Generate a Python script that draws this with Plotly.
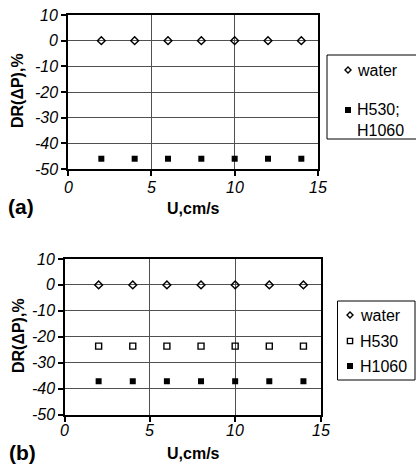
import plotly.graph_objects as go

# Flow velocity, cm/s
u = [2, 4, 6, 8, 10, 12, 14]

# Panel (a): drag reduction, %
dr_a_water = [0, 0, 0, 0, 0, 0, 0]
dr_a_h530_h1060 = [-46, -46, -46, -46, -46, -46, -46]

# Panel (b): drag reduction, %
dr_b_water = [0, 0, 0, 0, 0, 0, 0]
dr_b_h530 = [-23.6, -23.6, -23.6, -23.6, -23.6, -23.6, -23.6]
dr_b_h1060 = [-37.2, -37.2, -37.2, -37.2, -37.2, -37.2, -37.2]

x_ticks = [0, 5, 10, 15]
y_ticks = [10, 0, -10, -20, -30, -40, -50]

W, H = 416, 464
FONT = "Liberation Sans, Arial, sans-serif"

fig = go.Figure()

diamond = dict(symbol="diamond-open", size=6, color="black", line=dict(width=1.4, color="black"))
fsquare = dict(symbol="square", size=6, color="black")
osquare = dict(symbol="square-open", size=6, color="black", line=dict(width=1.4, color="black"))

fig.add_trace(go.Scatter(x=u, y=dr_a_water, mode="markers", name="water",
                         marker=diamond, xaxis="x", yaxis="y"))
fig.add_trace(go.Scatter(x=u, y=dr_a_h530_h1060, mode="markers", name="H530; H1060",
                         marker=fsquare, xaxis="x", yaxis="y"))
fig.add_trace(go.Scatter(x=u, y=dr_b_water, mode="markers", name="water",
                         marker=diamond, xaxis="x2", yaxis="y2"))
fig.add_trace(go.Scatter(x=u, y=dr_b_h530, mode="markers", name="H530",
                         marker=osquare, xaxis="x2", yaxis="y2"))
fig.add_trace(go.Scatter(x=u, y=dr_b_h1060, mode="markers", name="H1060",
                         marker=fsquare, xaxis="x2", yaxis="y2"))


def px_x(p):
    return p / W


def px_y(p):
    return 1 - p / H


axis_common = dict(
    showline=True, linecolor="black", linewidth=2, mirror=True,
    ticks="outside", ticklen=5, tickwidth=1.5, tickcolor="black",
    showgrid=True, gridcolor="#505050", gridwidth=1, zeroline=False,
    showticklabels=False,
)

xa = dict(axis_common, range=[0, 15], tickvals=x_ticks)
ya = dict(axis_common, range=[-50, 10], tickvals=y_ticks)

fig.update_layout(
    width=W, height=H,
    margin=dict(l=0, r=0, t=0, b=0),
    paper_bgcolor="white", plot_bgcolor="white",
    font=dict(family=FONT, color="black"),
    showlegend=False,
    xaxis=dict(xa, domain=[px_x(68), px_x(318)], anchor="y"),
    yaxis=dict(ya, domain=[px_y(169), px_y(15)], anchor="x"),
    xaxis2=dict(xa, domain=[px_x(64.5), px_x(320.5)], anchor="y2"),
    yaxis2=dict(ya, domain=[px_y(414.5), px_y(259)], anchor="x2"),
)

tick_font = dict(family=FONT, size=16, color="black", style="italic")


# Italic tick labels placed on each axis' own scale
def tick_labels(xref, yref, x_shift_y, y_shift_x):
    for v in x_ticks:
        fig.add_annotation(text=str(v), x=v, y=0, xref=xref, yref=f"{yref} domain",
                           xanchor="center", yanchor="top", yshift=x_shift_y,
                           showarrow=False, borderpad=0, font=tick_font)
    for v in y_ticks:
        fig.add_annotation(text=str(v), x=0, y=v, xref=f"{xref} domain", yref=yref,
                           xanchor="right", yanchor="middle", xshift=y_shift_x,
                           showarrow=False, borderpad=0, font=tick_font)


tick_labels("x", "y", -9, -9)
tick_labels("x2", "y2", -6, -9)


def label(text, x, y, size=16, angle=0, bold=True, xanchor="center"):
    fig.add_annotation(text=text, x=px_x(x), y=px_y(y), xref="paper", yref="paper",
                       showarrow=False, textangle=angle, xanchor=xanchor, yanchor="middle",
                       borderpad=0,
                       font=dict(family=FONT, size=size, color="black",
                                 weight="bold" if bold else "normal"))


label("U,cm/s", 193, 208)
label("U,cm/s", 193, 453)
label("DR(ΔP),%", 18, 91, angle=-90)
label("DR(ΔP),%", 18, 336, angle=-90)
label("(a)", 21, 207, size=21)
label("(b)", 22, 452, size=21)


# Legend boxes with key symbols and entry names
def legend_box(x0, y0, x1, y1):
    fig.add_shape(type="rect", xref="paper", yref="paper",
                  x0=px_x(x0), x1=px_x(x1), y0=px_y(y1), y1=px_y(y0),
                  line=dict(color="black", width=1), fillcolor="white", layer="above")


def key(kind, cx, cy, r=3):
    if kind == "diamond":
        path = (f"M {px_x(cx - r)} {px_y(cy)} L {px_x(cx)} {px_y(cy - r)} "
                f"L {px_x(cx + r)} {px_y(cy)} L {px_x(cx)} {px_y(cy + r)} Z")
        fig.add_shape(type="path", xref="paper", yref="paper", path=path,
                      line=dict(color="black", width=1.4), fillcolor="white", layer="above")
    else:
        fig.add_shape(type="rect", xref="paper", yref="paper",
                      x0=px_x(cx - r), x1=px_x(cx + r), y0=px_y(cy + r), y1=px_y(cy - r),
                      line=dict(color="black", width=1.4 if kind == "osquare" else 0),
                      fillcolor="white" if kind == "osquare" else "black", layer="above")


legend_box(327, 55, 420, 139)
key("diamond", 348, 70)
label("water", 356, 70, bold=False, xanchor="left")
key("fsquare", 348, 110)
label("H530;", 356, 110, bold=False, xanchor="left")
label("H1060", 356, 130, bold=False, xanchor="left")

legend_box(337.5, 301, 415, 380)
key("diamond", 350, 315)
label("water", 359, 315, bold=False, xanchor="left")
key("osquare", 350, 341, r=2.6)
label("H530", 359, 341, bold=False, xanchor="left")
key("fsquare", 350, 366)
label("H1060", 359, 366, bold=False, xanchor="left")

fig.write_html("out.html")
